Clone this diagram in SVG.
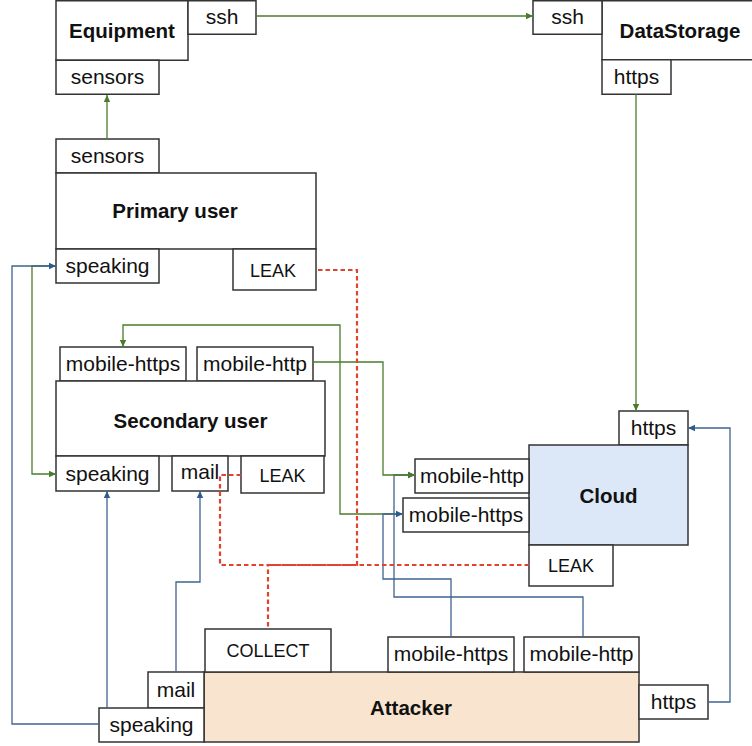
<svg xmlns="http://www.w3.org/2000/svg" width="752" height="746" viewBox="0 0 752 746">
  <style>
    .box { fill: #ffffff; stroke: #333333; stroke-width: 1.5; }
    .title { font-family: "Liberation Sans", Arial, sans-serif; font-size: 20.5px; font-weight: bold; fill: #111111; text-anchor: middle; }
    .port { font-family: "Liberation Sans", Arial, sans-serif; font-size: 21px; fill: #111111; text-anchor: middle; }
    .small { font-family: "Liberation Sans", Arial, sans-serif; font-size: 18px; fill: #111111; text-anchor: middle; }
    .green { fill: none; stroke: #4a7c2c; stroke-width: 1.3; }
    .blue { fill: none; stroke: #3f6490; stroke-width: 1.3; }
    .leak { fill: none; stroke: #de4430; stroke-width: 2.2; stroke-dasharray: 4.5 3; }
  </style>
  <defs>
    <marker id="arrowGreen" markerUnits="userSpaceOnUse" markerWidth="8" markerHeight="8" refX="7" refY="4" orient="auto">
      <path d="M0,0.8 L7,4 L0,7.2 Z" fill="#4a7c2c"/>
    </marker>
    <marker id="arrowBlue" markerUnits="userSpaceOnUse" markerWidth="8" markerHeight="8" refX="7" refY="4" orient="auto">
      <path d="M0,0.8 L7,4 L0,7.2 Z" fill="#2f5b8c"/>
    </marker>
  </defs>

  <rect width="752" height="746" fill="#ffffff"/>

  <!-- Equipment -->
  <g id="equipment">
    <rect class="box" x="56" y="0.75" width="132" height="59.5"/>
    <text class="title" x="122" y="38">Equipment</text>
    <rect class="box" x="188" y="0.75" width="68" height="33.5"/>
    <text class="port" x="222" y="24">ssh</text>
    <rect class="box" x="56" y="60.25" width="103" height="34"/>
    <text class="port" x="107.5" y="84">sensors</text>
  </g>

  <!-- DataStorage -->
  <g id="datastorage">
    <rect class="box" x="602" y="0.75" width="160" height="59"/>
    <text class="title" x="680" y="38">DataStorage</text>
    <rect class="box" x="533" y="0.75" width="69" height="33.5"/>
    <text class="port" x="567.5" y="24">ssh</text>
    <rect class="box" x="602" y="59.75" width="69" height="34.5"/>
    <text class="port" x="636.5" y="84">https</text>
  </g>

  <!-- Primary user -->
  <g id="primary-user">
    <rect class="box" x="56" y="139" width="103" height="34"/>
    <text class="port" x="107.5" y="163">sensors</text>
    <rect class="box" x="56" y="173" width="260" height="76"/>
    <text class="title" x="175" y="218">Primary user</text>
    <rect class="box" x="56" y="249" width="103" height="34"/>
    <text class="port" x="107.5" y="273">speaking</text>
    <rect class="box" x="233" y="249" width="83" height="41"/>
    <text class="small" x="273" y="277">LEAK</text>
  </g>

  <!-- Secondary user -->
  <g id="secondary-user">
    <rect class="box" x="60" y="347" width="126" height="34"/>
    <text class="port" x="123" y="371">mobile-https</text>
    <rect class="box" x="197" y="347" width="116" height="34"/>
    <text class="port" x="255" y="371">mobile-http</text>
    <rect class="box" x="56" y="381" width="269" height="75"/>
    <text class="title" x="190.5" y="428">Secondary user</text>
    <rect class="box" x="56" y="456" width="103" height="35"/>
    <text class="port" x="107.5" y="481">speaking</text>
    <rect class="box" x="172" y="456" width="56" height="35"/>
    <text class="port" x="200" y="479">mail</text>
    <rect class="box" x="241" y="456" width="83" height="37"/>
    <text class="small" x="282.5" y="482">LEAK</text>
  </g>

  <!-- Cloud -->
  <g id="cloud">
    <rect class="box" x="619" y="411" width="69" height="34"/>
    <text class="port" x="653.5" y="435">https</text>
    <rect class="box" x="529" y="445" width="159" height="100" style="fill:#dce7f8"/>
    <text class="title" x="608.5" y="503">Cloud</text>
    <rect class="box" x="415" y="459" width="114" height="34"/>
    <text class="port" x="472" y="483">mobile-http</text>
    <rect class="box" x="403" y="498" width="126" height="34"/>
    <text class="port" x="466" y="522">mobile-https</text>
    <rect class="box" x="529" y="545" width="84" height="41"/>
    <text class="small" x="571" y="572">LEAK</text>
  </g>

  <!-- Attacker -->
  <g id="attacker">
    <rect class="box" x="204" y="672" width="435" height="70" style="fill:#f9e5cf"/>
    <text class="title" x="411" y="715">Attacker</text>
    <rect class="box" x="205" y="629" width="126" height="43"/>
    <text class="small" x="268" y="657">COLLECT</text>
    <rect class="box" x="388" y="637" width="126" height="35"/>
    <text class="port" x="451" y="661">mobile-https</text>
    <rect class="box" x="524" y="637" width="115" height="35"/>
    <text class="port" x="581.5" y="661">mobile-http</text>
    <rect class="box" x="148" y="672" width="56" height="36"/>
    <text class="port" x="176" y="697">mail</text>
    <rect class="box" x="99" y="708" width="105" height="34"/>
    <text class="port" x="151.5" y="732">speaking</text>
    <rect class="box" x="639" y="685" width="69" height="34"/>
    <text class="port" x="673.5" y="709">https</text>
  </g>

  <!-- Connectors -->
  <g id="connectors">
    <!-- green flows -->
    <path class="green" d="M107,139 V95" marker-end="url(#arrowGreen)"/>
    <path class="green" d="M256,16 H533" marker-end="url(#arrowGreen)"/>
    <path class="green" d="M636,94 V411" marker-end="url(#arrowGreen)"/>
    <path class="green" d="M55,266 H32 V474 H56" marker-end="url(#arrowGreen)"/>
    <path class="green" d="M403,514 H340 V325 H123 V347" marker-end="url(#arrowGreen)"/>

    <!-- blue flows from the attacker -->
    <path class="blue" d="M99,724 H12 V266 H56" marker-end="url(#arrowBlue)"/>
    <path class="blue" d="M107,708 V491" marker-end="url(#arrowBlue)"/>
    <path class="blue" d="M176,672 V582 H200 V491" marker-end="url(#arrowBlue)"/>
    <path class="blue" d="M451,637 V579 H383 V514 H403" marker-end="url(#arrowBlue)"/>
    <path class="blue" d="M583,637 V597 H394 V475 H415" marker-end="url(#arrowBlue)"/>
    <path class="blue" d="M708,702 H730 V428 H688" marker-end="url(#arrowBlue)"/>

    <path class="green" d="M313,362 H383 V475 H415" marker-end="url(#arrowGreen)"/>

    <!-- leaks collected by the attacker -->
    <path class="leak" d="M318,270 H357 V565 H268 V629"/>
    <path class="leak" d="M241,475 H220 V565 H268"/>
    <path class="leak" d="M529,565 H268"/>
  </g>
</svg>
